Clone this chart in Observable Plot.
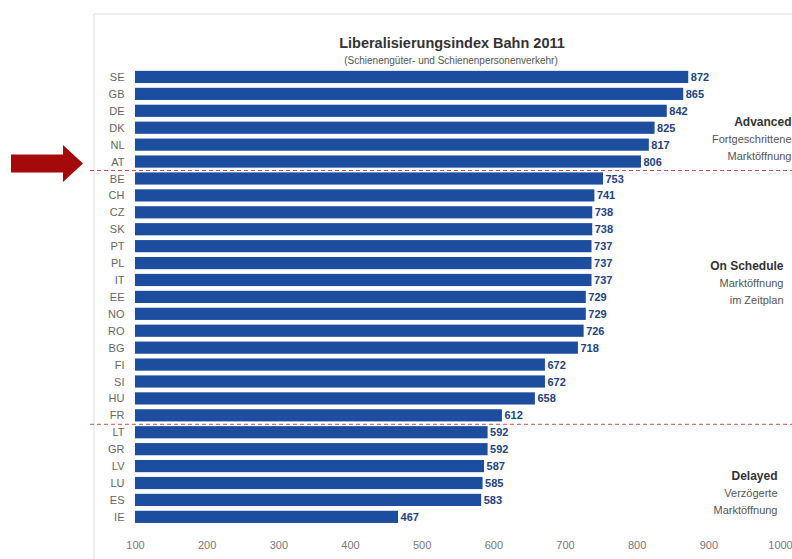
<!DOCTYPE html>
<html>
<head>
<meta charset="utf-8">
<script src="https://cdn.jsdelivr.net/npm/d3@7"></script>
<script src="https://cdn.jsdelivr.net/npm/@observablehq/plot@0.6"></script>
<style>
  html, body { margin: 0; padding: 0; background: #fff; }
  #chart { position: relative; width: 792px; height: 559px; overflow: hidden; }
  #chart svg { display: block; }
</style>
</head>
<body>
<div id="chart"></div>
<script>
const countries = ["SE","GB","DE","DK","NL","AT","BE","CH","CZ","SK","PT","PL","IT","EE","NO","RO","BG","FI","SI","HU","FR","LT","GR","LV","LU","ES","IE"];
const values = [872,865,842,825,817,806,753,741,738,738,737,737,737,729,729,726,718,672,672,658,612,592,592,587,585,583,467];
const xTicks = [100,200,300,400,500,600,700,800,900,1000];
const boundaries = ["AT","FR"];
const titleText = "Liberalisierungsindex Bahn 2011";
const subtitleText = "(Schienengüter- und Schienenpersonenverkehr)";
const groupTitles = ["Advanced","On Schedule","Delayed"];
const groupLines = [["Fortgeschrittene","Marktöffnung"],["Marktöffnung","im Zeitplan"],["Verzögerte","Marktöffnung"]];
const groupRows = ["DK","PL","LV"];

const data = countries.map((c, i) => ({country: c, value: values[i]}));

const W = 792, H = 559;
const plotTop = 68.5, plotBottom = 525.3;
const step = (plotBottom - plotTop) / 27;
const font = "'Liberation Sans', Arial, sans-serif";

// layout offsets for the three group annotations
const groupDy = [-6, 3, 10];
const groupDx = [11, 3, -3];

function groupMarks(i) {
  const row = groupRows[i];
  const marks = [
    Plot.text([groupTitles[i]], {y: () => row, frameAnchor: "right", textAnchor: "end",
      dx: groupDx[i], dy: groupDy[i], fontWeight: "bold", fontSize: 12, fill: "#333"})
  ];
  groupLines[i].forEach((l, j) => {
    marks.push(Plot.text([l], {y: () => row, frameAnchor: "right", textAnchor: "end",
      dx: groupDx[i], dy: groupDy[i] + 17 * (j + 1), fontSize: 11, fill: "#555"}));
  });
  return marks;
}

const chart = Plot.plot({
  width: W,
  height: H,
  marginLeft: 135,
  marginRight: 12,
  marginTop: plotTop,
  marginBottom: H - plotBottom,
  style: {fontFamily: font, background: "transparent", color: "#666"},
  x: {domain: [100, 1000], axis: null},
  y: {domain: countries, paddingInner: 0.28, paddingOuter: 0.14, round: false, axis: null},
  marks: [
    Plot.barX(data, {x1: 100, x2: "value", y: "country", fill: "#1c4d9e"}),
    Plot.text(data, {x: "value", y: "country", text: d => String(d.value), textAnchor: "start",
      dx: 2, fontWeight: "bold", fontSize: 11, fill: "#24437f"}),
    Plot.ruleY(boundaries, {y: d => d, dy: step / 2, stroke: "#c8504a", strokeWidth: 1,
      strokeDasharray: "4,3", insetLeft: -45, insetRight: -12}),
    Plot.axisY({tickSize: 0, tickPadding: 11, fontSize: 11, fill: "#666", label: null}),
    Plot.axisX({ticks: xTicks, tickSize: 0, tickPadding: 15, fontSize: 11, fill: "#777",
      tickFormat: d => String(d), label: null}),
    Plot.text([titleText], {frameAnchor: "top", lineAnchor: "middle", dy: 43 - plotTop, dx: -6,
      fontWeight: "bold", fontSize: 14.5, fill: "#333"}),
    Plot.text([subtitleText], {frameAnchor: "top", lineAnchor: "middle", dy: 60 - plotTop, dx: -7,
      fontSize: 10, fill: "#555"}),
    ...groupMarks(0), ...groupMarks(1), ...groupMarks(2)
  ]
});

document.getElementById("chart").appendChild(chart);

// decorations: faint frame and red arrow pointing at AT
const svg = d3.select(chart);
const yS = chart.scale("y");
const atCenter = yS.apply("AT") + yS.bandwidth / 2 + 2;
const deco = svg.insert("g", ":first-child");
deco.append("path").attr("d", `M94,559V14H${W}`).attr("fill", "none").attr("stroke", "#dcdcdc");
const c = atCenter;
svg.append("path")
  .attr("d", `M11,${c - 9}H63V${c - 18.5}L83,${c}L63,${c + 18.5}V${c + 9}H11Z`)
  .attr("fill", "#a50a0a");
</script>
</body>
</html>
